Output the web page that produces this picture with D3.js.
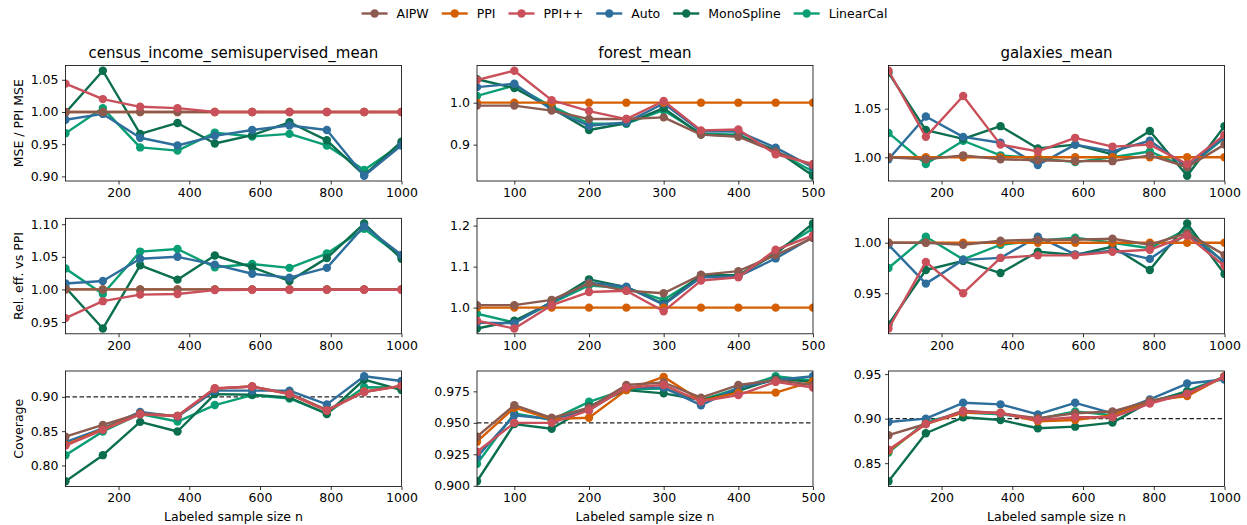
<!DOCTYPE html>
<html><head><meta charset="utf-8">
<script src="https://cdn.jsdelivr.net/npm/d3@7"></script>
<style>body{margin:0;background:#fff} svg{font-family:"DejaVu Sans",sans-serif}</style>
</head><body><svg id="c" width="1247" height="525"></svg>
<script>
const methods = ["AIPW","PPI","PPI++","Auto","MonoSpline","LinearCal"];
const colors = ["#8c5a4e","#d55e00","#c9505a","#2e6e9c","#0b6e4f","#0a9e74"];
const drawOrder = [5,4,3,1,0,2];

const datasets = ["census_income_semisupervised_mean","forest_mean","galaxies_mean"];
const rowLabels = ["MSE / PPI MSE","Rel. eff. vs PPI","Coverage"];
const xLabel = "Labeled sample size n";

const xCensus = [50,155.6,261.1,366.7,472.2,577.8,683.3,788.9,894.4,1000];
const xForest = [50,100,150,200,250,300,350,400,450,500];
const xGalaxies = [50,155.6,261.1,366.7,472.2,577.8,683.3,788.9,894.4,1000];

const xTicksCensus = [200,400,600,800,1000];
const xTicksForest = [100,200,300,400,500];
const xTicksGalaxies = [200,400,600,800,1000];

// rows: AIPW, PPI, PPI++, Auto, MonoSpline, LinearCal
const censusMSE = [
  [1.000,1.000,1.000,1.000,1.000,1.000,1.000,1.000,1.000,1.000],
  [1.000,1.000,1.000,1.000,1.000,1.000,1.000,1.000,1.000,1.000],
  [1.044,1.020,1.008,1.006,1.000,1.000,1.000,1.000,1.000,1.000],
  [0.988,0.997,0.960,0.948,0.963,0.972,0.979,0.972,0.901,0.948],
  [0.999,1.064,0.966,0.983,0.951,0.964,0.984,0.956,0.902,0.954],
  [0.967,1.006,0.945,0.940,0.968,0.962,0.966,0.948,0.910,0.950]
];
const forestMSE = [
  [0.993,0.993,0.981,0.961,0.961,0.965,0.924,0.919,0.883,0.851],
  [1.000,1.000,1.000,1.000,1.000,1.000,1.000,1.000,1.000,1.000],
  [1.054,1.076,1.006,0.980,0.961,1.004,0.934,0.936,0.877,0.854],
  [1.037,1.045,0.984,0.945,0.953,0.998,0.932,0.931,0.893,0.846],
  [1.056,1.035,0.987,0.935,0.951,0.987,0.924,0.921,0.887,0.826],
  [1.016,1.041,0.991,0.950,0.950,0.982,0.926,0.924,0.885,0.836]
];
const galaxiesMSE = [
  [1.000,0.998,1.002,0.998,0.997,0.996,0.996,1.002,0.990,1.013],
  [1.000,1.000,1.000,1.000,1.000,1.000,1.000,1.000,1.000,1.000],
  [1.089,1.021,1.063,1.013,1.006,1.020,1.011,1.013,0.993,1.023],
  [0.998,1.042,1.021,1.015,0.992,1.013,1.006,1.017,0.990,1.021],
  [1.087,1.028,1.019,1.032,1.009,1.013,1.003,1.027,0.981,1.032],
  [1.025,0.993,1.017,1.002,0.999,0.995,1.000,1.006,0.989,1.020]
];
const censusEff = [
  [1.000,1.000,1.000,1.000,1.000,1.000,1.000,1.000,1.000,1.000],
  [1.000,1.000,1.000,1.000,1.000,1.000,1.000,1.000,1.000,1.000],
  [0.956,0.982,0.992,0.993,0.999,0.9995,0.9995,0.9995,0.9995,0.9995],
  [1.009,1.013,1.047,1.050,1.038,1.024,1.018,1.033,1.097,1.053],
  [1.003,0.940,1.037,1.015,1.052,1.034,1.013,1.048,1.101,1.047],
  [1.032,0.993,1.058,1.062,1.034,1.039,1.033,1.055,1.093,1.050]
];
const forestEff = [
  [1.006,1.006,1.019,1.059,1.041,1.035,1.080,1.089,1.128,1.170],
  [1.000,1.000,1.000,1.000,1.000,1.000,1.000,1.000,1.000,1.000],
  [0.968,0.949,1.006,1.038,1.041,0.991,1.066,1.074,1.141,1.176],
  [0.963,0.962,1.014,1.061,1.051,1.007,1.074,1.076,1.120,1.172],
  [0.949,0.968,1.013,1.069,1.050,1.009,1.079,1.079,1.131,1.205],
  [0.985,0.964,1.011,1.054,1.048,1.019,1.076,1.077,1.137,1.193]
];
const galaxiesEff = [
  [1.000,1.000,0.998,1.002,1.003,1.003,1.004,0.998,1.0095,0.988],
  [1.000,1.000,1.000,1.000,1.000,1.000,1.000,1.000,1.000,1.000],
  [0.915,0.981,0.950,0.985,0.9875,0.9875,0.991,0.993,1.007,0.977],
  [0.998,0.9595,0.983,0.985,1.006,0.9885,0.992,0.984,1.009,0.981],
  [0.919,0.973,0.982,0.970,0.991,0.988,0.996,0.973,1.019,0.969],
  [0.975,1.006,0.9835,0.998,1.002,1.005,1.000,0.9945,1.0135,0.980]
];
const censusCov = [
  [0.842,0.859,0.876,0.872,0.912,0.915,0.905,0.881,0.907,0.916],
  [0.830,0.853,0.875,0.872,0.912,0.915,0.904,0.880,0.908,0.916],
  [0.829,0.852,0.8745,0.872,0.9125,0.915,0.904,0.880,0.907,0.916],
  [0.834,0.854,0.878,0.871,0.909,0.909,0.909,0.889,0.930,0.923],
  [0.777,0.815,0.8635,0.8495,0.904,0.903,0.899,0.875,0.925,0.910],
  [0.815,0.8495,0.875,0.864,0.888,0.9025,0.8976,0.876,0.914,0.9135]
];
const forestCov = [
  [0.939,0.964,0.954,0.962,0.980,0.982,0.970,0.980,0.984,0.980],
  [0.935,0.962,0.953,0.954,0.976,0.9865,0.9675,0.974,0.974,0.983],
  [0.927,0.950,0.950,0.960,0.978,0.980,0.967,0.972,0.9825,0.978],
  [0.923,0.956,0.953,0.960,0.978,0.978,0.964,0.978,0.984,0.987],
  [0.9036,0.949,0.9453,0.963,0.976,0.9734,0.968,0.9753,0.985,0.9825],
  [0.9175,0.9575,0.9523,0.9667,0.9766,0.9773,0.968,0.9773,0.987,0.9836]
];
const galaxiesCov = [
  [0.8814,0.894,0.909,0.906,0.9004,0.906,0.908,0.920,0.928,0.9476],
  [0.864,0.894,0.9067,0.9067,0.897,0.8985,0.904,0.920,0.9253,0.9476],
  [0.865,0.894,0.908,0.906,0.8985,0.9015,0.9015,0.917,0.928,0.947],
  [0.8963,0.900,0.9178,0.916,0.9048,0.9178,0.906,0.9216,0.9394,0.944],
  [0.8297,0.8836,0.9015,0.8985,0.8892,0.891,0.8955,0.919,0.930,0.946],
  [0.862,0.8963,0.9067,0.905,0.8996,0.908,0.904,0.9178,0.9312,0.947]
];

const yTicksCensusMSE = ["0.90","0.95","1.00","1.05"];
const yTicksForestMSE = ["0.9","1.0"];
const yTicksGalaxiesMSE = ["1.00","1.05"];
const yTicksCensusEff = ["0.95","1.00","1.05","1.10"];
const yTicksForestEff = ["1.0","1.1","1.2"];
const yTicksGalaxiesEff = ["0.95","1.00"];
const yTicksCensusCov = ["0.80","0.85","0.90"];
const yTicksForestCov = ["0.900","0.925","0.950","0.975"];
const yTicksGalaxiesCov = ["0.85","0.90","0.95"];
const targetCoverage = [0.90, 0.95, 0.90];

const panels = [
  {r:0,c:0,x:xCensus,xt:xTicksCensus,d:censusMSE,yt:yTicksCensusMSE},
  {r:0,c:1,x:xForest,xt:xTicksForest,d:forestMSE,yt:yTicksForestMSE},
  {r:0,c:2,x:xGalaxies,xt:xTicksGalaxies,d:galaxiesMSE,yt:yTicksGalaxiesMSE},
  {r:1,c:0,x:xCensus,xt:xTicksCensus,d:censusEff,yt:yTicksCensusEff},
  {r:1,c:1,x:xForest,xt:xTicksForest,d:forestEff,yt:yTicksForestEff},
  {r:1,c:2,x:xGalaxies,xt:xTicksGalaxies,d:galaxiesEff,yt:yTicksGalaxiesEff},
  {r:2,c:0,x:xCensus,xt:xTicksCensus,d:censusCov,yt:yTicksCensusCov,ref:targetCoverage[0]},
  {r:2,c:1,x:xForest,xt:xTicksForest,d:forestCov,yt:yTicksForestCov,ref:targetCoverage[1]},
  {r:2,c:2,x:xGalaxies,xt:xTicksGalaxies,d:galaxiesCov,yt:yTicksGalaxiesCov,ref:targetCoverage[2]}
];

const svg = d3.select("#c");
const lefts = [65.5, 477, 888.5], W = 336;
const tops = [65.5, 218.3, 371], H = 115.5;
const FS = 12.5;
const R = 4.2, LW = 2.4;

panels.forEach((p, i) => {
  const L = lefts[p.c], T = tops[p.r];
  const x = d3.scaleLinear().domain(d3.extent(p.x)).range([L, L + W]);
  const all = p.d.flat();
  const [mn, mx] = d3.extent(all);
  const pad = (mx - mn) * 0.05;
  const y = d3.scaleLinear().domain([mn - pad, mx + pad]).range([T + H, T]);
  const g = svg.append("g");
  const cid = "clip" + i;
  svg.append("clipPath").attr("id", cid).append("rect")
    .attr("x", L).attr("y", T).attr("width", W).attr("height", H);

  const plot = g.append("g").attr("clip-path", `url(#${cid})`);
  if (p.ref !== undefined) {
    plot.append("line").attr("x1", L).attr("x2", L + W)
      .attr("y1", y(p.ref)).attr("y2", y(p.ref))
      .attr("stroke", "#222").attr("stroke-width", 1.2).attr("stroke-dasharray", "4.5,2.5");
  }
  const line = d3.line().x((d, j) => x(p.x[j])).y(d => y(d));
  drawOrder.forEach(k => {
    const s = plot.append("g");
    s.append("path").attr("d", line(p.d[k])).attr("fill", "none")
      .attr("stroke", colors[k]).attr("stroke-width", LW).attr("stroke-linejoin", "round");
    s.selectAll("circle").data(p.d[k]).join("circle")
      .attr("cx", (d, j) => x(p.x[j])).attr("cy", d => y(d)).attr("r", R)
      .attr("fill", colors[k]);
  });

  const xa = g.append("g").attr("transform", `translate(0,${T + H})`)
    .call(d3.axisBottom(x).tickValues(p.xt).tickFormat(d3.format("d")).tickSizeOuter(0).tickSize(3.5).tickPadding(3.5));
  const ya = g.append("g").attr("transform", `translate(${L},0)`)
    .call(d3.axisLeft(y).tickValues(p.yt.map(Number)).tickFormat((d, j) => p.yt[j]).tickSizeOuter(0).tickSize(3.5).tickPadding(3.5));
  [xa, ya].forEach(a => {
    a.select(".domain").remove();
    a.selectAll("line").attr("stroke", "#000").attr("stroke-width", 0.8);
    a.selectAll("text").attr("font-size", FS).attr("fill", "#000").attr("font-family", "DejaVu Sans");
  });
  g.append("rect").attr("x", L).attr("y", T).attr("width", W).attr("height", H)
    .attr("fill", "none").attr("stroke", "#000").attr("stroke-width", 0.8);

  if (p.r === 0) {
    g.append("text").attr("x", L + W / 2).attr("y", T - 8).attr("text-anchor", "middle")
      .attr("font-size", 15).attr("fill", "#000").text(datasets[p.c]);
  }
  if (p.r === 2) {
    g.append("text").attr("x", L + W / 2).attr("y", 521).attr("text-anchor", "middle")
      .attr("font-size", FS).attr("fill", "#000").text(xLabel);
  }
  if (p.c === 0) {
    g.append("text").attr("transform", `translate(22.5,${T + H / 2}) rotate(-90)`)
      .attr("text-anchor", "middle").attr("font-size", FS).attr("fill", "#000").text(rowLabels[p.r]);
  }
});

const leg = svg.append("g");
let cx = 0;
methods.forEach((m, k) => {
  const it = leg.append("g");
  it.append("line").attr("x1", 0).attr("x2", 26).attr("y1", 0).attr("y2", 0)
    .attr("stroke", colors[k]).attr("stroke-width", LW);
  it.append("circle").attr("cx", 13).attr("cy", 0).attr("r", R).attr("fill", colors[k]);
  const t = it.append("text").attr("x", 35).attr("y", 0).attr("dy", "0.35em")
    .attr("font-size", FS).attr("fill", "#000").text(m);
  const w = 35 + t.node().getComputedTextLength();
  it.attr("transform", `translate(${cx},0)`);
  cx += w + 13;
});
const totalW = cx - 13;
leg.attr("transform", `translate(${624.5 - totalW / 2},13.5)`);
</script></body></html>
